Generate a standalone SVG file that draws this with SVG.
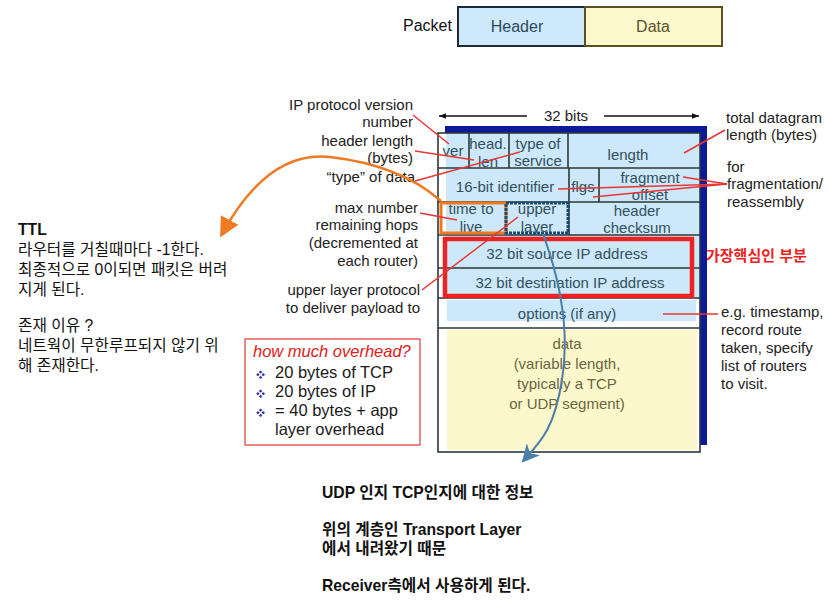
<svg xmlns="http://www.w3.org/2000/svg" width="829" height="605" viewBox="0 0 829 605">
<defs>
<style>
text{font-family:"Liberation Sans","Noto Sans CJK KR",Arial,sans-serif;}
.lbl{font-size:15px;fill:#222;}
.cell{font-size:15px;fill:#34505e;text-anchor:middle;}
.dat{font-size:15px;fill:#6a6542;text-anchor:middle;}
.grid{stroke:#2b3838;stroke-width:1.6;fill:none;}
.lead{stroke:#e83535;stroke-width:1.5;fill:none;}
.kr{font-size:15.7px;fill:#111;}
.krb{font-size:15.7px;fill:#111;font-weight:bold;}
.ov{font-size:16.5px;fill:#1a1a1a;}
.bul{font-size:9px;fill:#2a2aa8;}
</style>
<marker id="ah" viewBox="0 0 10 10" refX="10" refY="5" markerWidth="7" markerHeight="7" markerUnits="userSpaceOnUse" orient="auto"><path d="M0,1 L10,5 L0,9 z" fill="#111"/></marker>
<marker id="ahOrange" viewBox="0 0 10 10" refX="8" refY="5" markerWidth="20" markerHeight="20" markerUnits="userSpaceOnUse" orient="auto"><path d="M0,0 L10,5 L0,10 z" fill="#f07a22"/></marker>
<marker id="ahBlue" viewBox="0 0 10 10" refX="8" refY="5" markerWidth="18" markerHeight="18" markerUnits="userSpaceOnUse" orient="auto"><path d="M0,0 L10,5 L0,10 L3,5 z" fill="#4a80a8"/></marker>
</defs>
<rect width="829" height="605" fill="#fff"/>

<g id="packet">
<text x="403" y="31" style="font-size:16px;fill:#111;">Packet</text>
<rect x="458" y="7" width="127" height="39" fill="#cde9fb" stroke="#1a2a3a" stroke-width="2"/>
<rect x="585" y="7" width="137" height="39" fill="#fdf9cc" stroke="#5a5020" stroke-width="2"/>
<text x="517" y="32" style="font-size:16px;fill:#2d4a5a;text-anchor:middle;">Header</text>
<text x="653" y="32" style="font-size:16px;fill:#5a5030;text-anchor:middle;">Data</text>
</g>

<g id="bits-width">
<line x1="527" y1="116" x2="439" y2="116" stroke="#111" stroke-width="1.5" marker-end="url(#ah)"/>
<line x1="604" y1="116" x2="699" y2="116" stroke="#111" stroke-width="1.5" marker-end="url(#ah)"/>
<text x="566" y="121" class="lbl" text-anchor="middle">32 bits</text>
</g>

<g id="ip-header">
<rect x="445" y="126" width="262" height="319" fill="#0a1a98"/>
<rect x="438" y="133" width="262" height="319" fill="#fff"/>
<rect x="446" y="134" width="253" height="164" fill="#cce8fa"/>
<rect x="447" y="300" width="249" height="21" fill="#cce8fa"/>
<rect x="447" y="330" width="250" height="120" fill="#fdf8cc"/>
<rect x="438" y="133" width="262" height="319" class="grid"/>
<path class="grid" d="M438,168H700 M438,202H700 M438,235H700 M438,268H700 M438,298H700 M438,328H700 M469,133V168 M509,133V168 M568,133V168 M569,168V202 M599,168V202 M506,202V235 M569,202V235"/>
<text class="cell" x="453" y="156">ver</text>
<text class="cell" x="488" y="149">head.</text>
<text class="cell" x="488" y="167">len</text>
<text class="cell" x="538" y="149">type of</text>
<text class="cell" x="538" y="166">service</text>
<text class="cell" x="628" y="160">length</text>
<text class="cell" x="505" y="192">16-bit identifier</text>
<text class="cell" x="583" y="192">flgs</text>
<text class="cell" x="650" y="183">fragment</text>
<text class="cell" x="650" y="200">offset</text>
<text class="cell" x="471" y="214">time to</text>
<text class="cell" x="471" y="232">live</text>
<text class="cell" x="537" y="214">upper</text>
<text class="cell" x="537" y="232">layer</text>
<text class="cell" x="637" y="216">header</text>
<text class="cell" x="637" y="233">checksum</text>
<text class="cell" x="567" y="259">32 bit source IP address</text>
<text class="cell" x="570" y="288">32 bit destination IP address</text>
<text class="cell" x="567" y="319">options (if any)</text>
<text class="dat" x="567" y="349">data</text>
<text class="dat" x="567" y="369">(variable length,</text>
<text class="dat" x="567" y="389">typically a TCP</text>
<text class="dat" x="567" y="409">or UDP segment)</text>
</g>

<g id="highlights">
<rect x="441" y="203" width="65" height="30" fill="none" stroke="#f07820" stroke-width="3"/>
<rect x="506" y="203" width="62" height="30" fill="none" stroke="#1b4a72" stroke-width="3" stroke-dasharray="3 1"/>
<rect x="445" y="239" width="247" height="57" fill="none" stroke="#ee2222" stroke-width="4.5"/>
<text x="706" y="261" style="font-size:15px;font-weight:bold;fill:#ee2222;">가장핵심인 부분</text>
</g>

<g id="left-labels">
<text x="413" y="110" class="lbl" text-anchor="end">IP protocol version</text>
<text x="413" y="127" class="lbl" text-anchor="end">number</text>
<text x="413" y="146" class="lbl" text-anchor="end">header length</text>
<text x="413" y="163" class="lbl" text-anchor="end">(bytes)</text>
<text x="415" y="182" class="lbl" text-anchor="end">“type” of data</text>
<text x="418" y="213" class="lbl" text-anchor="end">max number</text>
<text x="418" y="230" class="lbl" text-anchor="end">remaining hops</text>
<text x="418" y="248" class="lbl" text-anchor="end">(decremented at</text>
<text x="418" y="266" class="lbl" text-anchor="end">each router)</text>
<text x="420" y="295" class="lbl" text-anchor="end">upper layer protocol</text>
<text x="420" y="313" class="lbl" text-anchor="end">to deliver payload to</text>
</g>

<g id="right-labels">
<text x="726" y="123" class="lbl">total datagram</text>
<text x="726" y="140" class="lbl">length (bytes)</text>
<text x="727" y="172" class="lbl">for</text>
<text x="727" y="189" class="lbl">fragmentation/</text>
<text x="727" y="207" class="lbl">reassembly</text>
<text x="721" y="317" class="lbl">e.g. timestamp,</text>
<text x="721" y="335" class="lbl">record route</text>
<text x="721" y="353" class="lbl">taken, specify</text>
<text x="721" y="371" class="lbl">list of routers</text>
<text x="721" y="389" class="lbl">to visit.</text>
</g>

<g id="overhead-box">
<rect x="245" y="339" width="175" height="106" fill="#fff" stroke="#e04848" stroke-width="1.3"/>
<text x="253" y="357" style="font-size:16.5px;font-style:italic;fill:#e02020;">how much overhead?</text>
<text x="256" y="378" class="bul">❖</text>
<text x="275" y="378" class="ov">20 bytes of TCP</text>
<text x="256" y="397" class="bul">❖</text>
<text x="275" y="397" class="ov">20 bytes of IP</text>
<text x="256" y="416" class="bul">❖</text>
<text x="275" y="416" class="ov">= 40 bytes + app</text>
<text x="275" y="435" class="ov">layer overhead</text>
</g>

<g id="ttl-note">
<text x="18" y="235" class="krb">TTL</text>
<text x="18" y="255" class="kr">라우터를 거칠때마다 -1한다.</text>
<text x="18" y="275" class="kr">최종적으로 0이되면 패킷은 버려</text>
<text x="18" y="295" class="kr">지게 된다.</text>
<text x="18" y="331" class="kr">존재 이유 ?</text>
<text x="18" y="351" class="kr">네트웍이 무한루프되지 않기 위</text>
<text x="18" y="371" class="kr">해 존재한다.</text>
</g>

<g id="upper-layer-note">
<text x="322" y="498" class="krb">UDP 인지 TCP인지에 대한 정보</text>
<text x="322" y="535" class="krb">위의 계층인 Transport Layer</text>
<text x="322" y="554" class="krb">에서 내려왔기 때문</text>
<text x="322" y="591" class="krb">Receiver측에서 사용하게 된다.</text>
</g>

<g id="connectors">
<line class="lead" x1="413" y1="115" x2="449" y2="144"/>
<line class="lead" x1="415" y1="151" x2="474" y2="160"/>
<line class="lead" x1="415" y1="181" x2="520" y2="152"/>
<line class="lead" x1="420" y1="213" x2="457" y2="220"/>
<line class="lead" x1="422" y1="290" x2="518" y2="217"/>
<line class="lead" x1="725" y1="130" x2="684" y2="153"/>
<line class="lead" x1="727" y1="184" x2="683" y2="177"/>
<line class="lead" x1="727" y1="184" x2="593" y2="197"/>
<line class="lead" x1="727" y1="184" x2="558" y2="189"/>
<line class="lead" x1="663" y1="314" x2="718" y2="314"/>
<path d="M441,201 Q400,165 330,157 Q268,150 222,234" fill="none" stroke="#f07a22" stroke-width="2.5" marker-end="url(#ahOrange)"/>
<path d="M543,234 C560,280 570,330 562,380 S540,442 524,460" fill="none" stroke="#4a80a8" stroke-width="2" marker-end="url(#ahBlue)"/>
</g>
</svg>
